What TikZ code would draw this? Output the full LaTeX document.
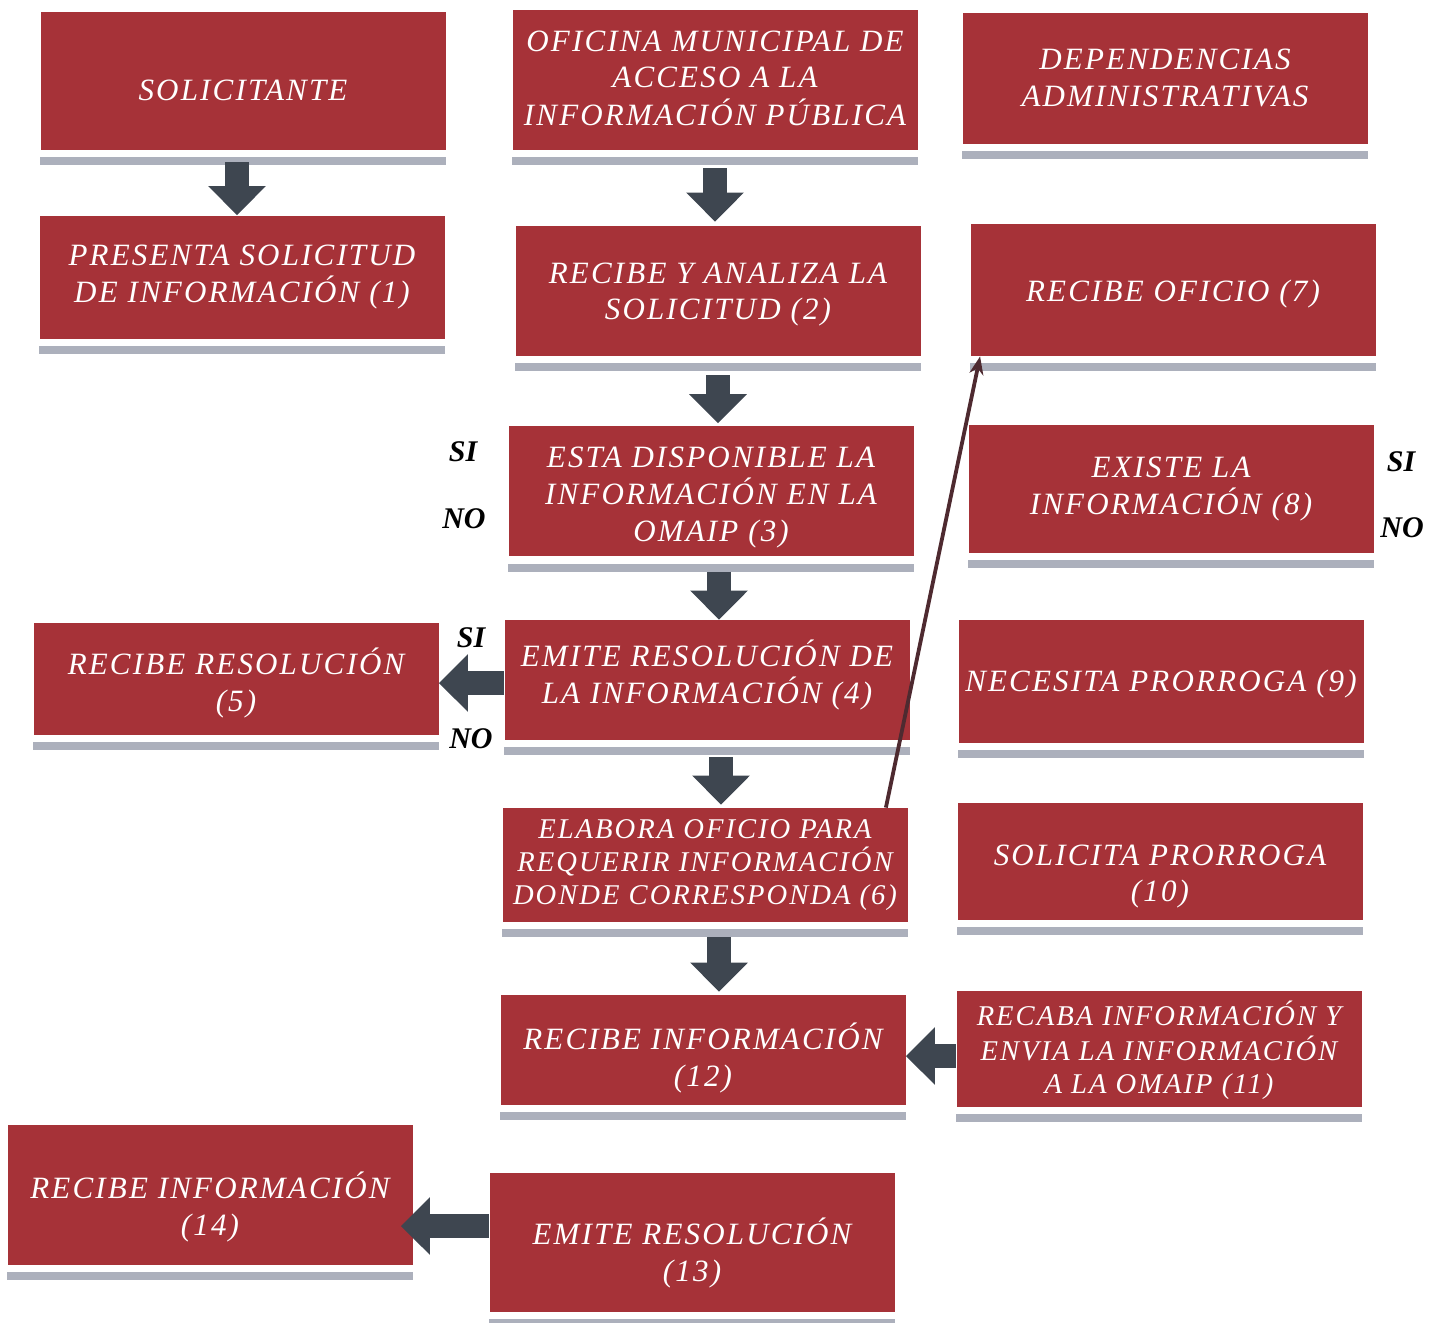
\documentclass[tikz,border=0pt]{standalone}
\usepackage{fontspec}
\setmainfont{Liberation Serif}
\newfontfamily\cajafont[LetterSpace=7]{Liberation Serif}
\usepackage{tikz}
\usetikzlibrary{arrows.meta}
\usetikzlibrary{positioning}
\definecolor{rojocaja}{RGB}{166,50,56}
\definecolor{grisbarra}{RGB}{172,176,188}
\definecolor{grisflecha}{RGB}{62,70,80}
\definecolor{lineaoficio}{RGB}{78,42,48}
% mover el texto de una caja hacia abajo o hacia arriba
\newcommand\bajar[2]{\raisebox{0pt}[\dimexpr\height+#1\relax][\depth]{\begin{tabular}{@{}c@{}}#2\end{tabular}}}
\newcommand\subir[2]{\raisebox{0pt}[\height][\dimexpr\depth+#1\relax]{\begin{tabular}{@{}c@{}}#2\end{tabular}}}
\tikzset{
  caja/.style={rectangle, fill=rojocaja, text=white, minimum width=202.5pt,
    inner sep=2pt, align=center, font=\cajafont\itshape\fontsize{15.5}{18.3}\selectfont},
  apretada/.style={font=\cajafont\itshape\fontsize{14.3}{16.5}\selectfont},
  resp/.style={font=\bfseries\itshape\fontsize{15}{18}\selectfont, text=black},
  flecha/.style={draw=grisflecha, line width=12pt, -{Triangle[width=28pt,length=14.5pt]}},
  oficio/.style={draw=lineaoficio, line width=1.9pt, -{Stealth[length=9pt,width=7pt]}}
}

\begin{document}
\begin{tikzpicture}[x=0.5pt, y=-0.5pt]
  \useasboundingbox (0, 0) rectangle (1437, 1323);
  \tikzstyle{every node}=[caja]
  % columnas
  \draw (243, 81) node[minimum height=69pt] (sol) {\bajar{12pt}{SOLICITANTE}};
  \draw (715, 80) node[minimum height=70pt] (ofi) {\bajar{1pt}{OFICINA MUNICIPAL DE\\ACCESO A LA\\INFORMACIÓN PÚBLICA}};
  \draw (1165, 78) node[minimum height=65.5pt] (dep) {DEPENDENCIAS\\ADMINISTRATIVAS};
  % pasos
  \draw (242, 277) node[minimum height=61.5pt] (pres) {PRESENTA SOLICITUD\\DE INFORMACIÓN (1)};
  \draw (718, 291) node[minimum height=65pt] (rec2) {\bajar{3pt}{RECIBE Y ANALIZA LA\\SOLICITUD (2)}};
  \draw (1173, 290) node[minimum height=66pt] (rec7) {\bajar{4pt}{RECIBE OFICIO (7)}};
  \draw (711, 491) node[minimum height=61.5pt] (est3) {\bajar{6pt}{ESTA DISPONIBLE LA\\INFORMACIÓN EN LA\\OMAIP (3)}};
  \draw (1171, 489) node[minimum height=64pt] (exi8) {EXISTE LA\\INFORMACIÓN (8)};
  \draw (707, 680) node[minimum height=60pt] (emi4) {\subir{3pt}{EMITE RESOLUCIÓN DE\\LA INFORMACIÓN (4)}};
  \draw (236, 679) node[minimum height=56pt] (rec5) {\bajar{6pt}{RECIBE RESOLUCIÓN\\(5)}};
  \draw (1161, 681) node[minimum height=61.5pt] (nec9) {\bajar{3pt}{NECESITA PRORROGA (9)}};
  \draw (705, 865) node[minimum height=57pt, apretada] (ela6) {ELABORA OFICIO PARA\\REQUERIR INFORMACIÓN\\DONDE CORRESPONDA (6)};
  \draw (1160, 861) node[minimum height=58.5pt] (sol10) {\bajar{15pt}{SOLICITA PRORROGA\\(10)}};
  \draw (703, 1050) node[minimum height=55pt] (rec12) {\bajar{10pt}{RECIBE INFORMACIÓN\\(12)}};
  \draw (1159, 1049) node[minimum height=54pt, apretada] (rcb11) {\bajar{3pt}{RECABA INFORMACIÓN Y\\ENVIA LA INFORMACIÓN\\A LA OMAIP (11)}};
  \draw (210, 1195) node[minimum height=70pt] (rec14) {\bajar{14pt}{RECIBE INFORMACIÓN\\(14)}};
  \draw (692, 1242) node[minimum height=69.5pt] (emi13) {\bajar{13pt}{EMITE RESOLUCIÓN\\(13)}};
  % barras grises
  \foreach \n in {sol, ofi, dep, pres, rec2, rec7, est3, exi8, emi4, rec5, nec9, ela6, sol10, rec12, rcb11, rec14, emi13}
    \fill[grisbarra] ([yshift=-3.5pt]\n.south west) rectangle ([yshift=-7.5pt]\n.south east);
  % respuestas
  \tikzstyle{every node}=[resp]
  \draw (463, 452) node (si3) {SI};
  \draw (464, 519) node (no3) {NO};
  \draw (471, 638) node (si4) {SI};
  \draw (471, 739) node (no4) {NO};
  \draw (1401, 462) node (si8) {SI};
  \draw (1402, 528) node (no8) {NO};
  % flechas
  \draw ([xshift=-3pt, yshift=-6pt]sol.south) -- ([xshift=-3pt]sol.south |- pres.north) [flecha];
  \draw ([yshift=-9pt]ofi.south) -- ([yshift=2pt]ofi.south |- rec2.north) [flecha];
  \draw ([yshift=-9.5pt]rec2.south) -- ([yshift=1pt]rec2.south |- est3.north) [flecha];
  \draw ([xshift=4pt, yshift=-7.5pt]est3.south) -- ([xshift=4pt]est3.south |- emi4.north) [flecha];
  \draw ([xshift=7pt, yshift=-8.5pt]emi4.south) -- ([xshift=7pt, yshift=1.5pt]emi4.south |- ela6.north) [flecha];
  \draw ([xshift=7pt, yshift=-7.5pt]ela6.south) -- ([xshift=7pt, yshift=1.5pt]ela6.south |- rec12.north) [flecha];
  \draw ([yshift=-1.5pt]emi4.west) -- ([yshift=-1.5pt]emi4.west -| rec5.east) [flecha];
  \draw ([yshift=-3.5pt]rcb11.west) -- ([yshift=-3.5pt]rcb11.west -| rec12.east) [flecha];
  \draw ([yshift=8pt]emi13.west) -- ([yshift=8pt, xshift=-6pt]emi13.west -| rec14.east) [flecha];
  \draw ([xshift=-11pt]ela6.north east) -- ([xshift=5pt]rec7.south west) [oficio];
\end{tikzpicture}
\end{document}
